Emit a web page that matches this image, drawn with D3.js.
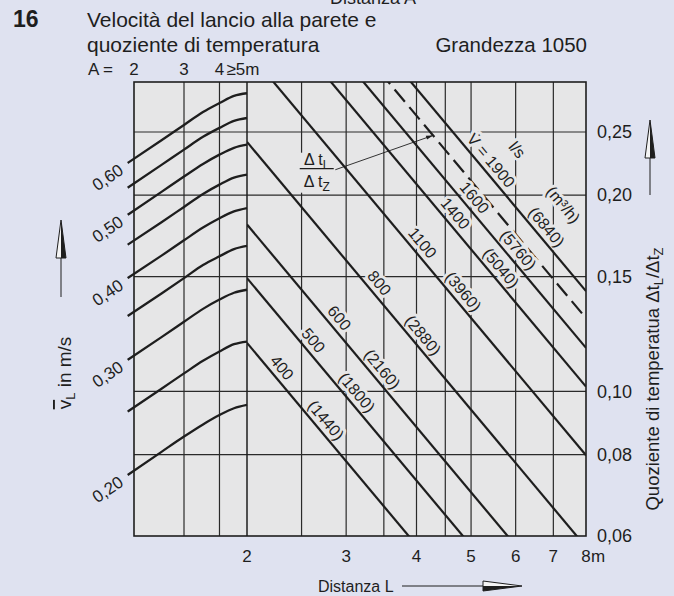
<!DOCTYPE html>
<html>
<head>
<meta charset="utf-8">
<script src="https://cdnjs.cloudflare.com/ajax/libs/d3/7.8.5/d3.min.js"></script>
<style>
body { margin: 0; background: #dfe2f0; }
text { font-family: "Liberation Sans", Arial, Helvetica, sans-serif; fill: #1e1e1e; }
.halo { stroke: #e6e6e7; stroke-width: 6px; stroke-linejoin: round; paint-order: stroke; }
</style>
</head>
<body>
<svg id="chart" width="674" height="596"></svg>
<script>
// left part: mean throw velocity against wall distance A
var distanceA = [1.9, 2.5, 3, 3.5, 4, 4.5, 5];
var velocityCurves = [
    [0.600, 0.650, 0.686, 0.718, 0.741, 0.760, 0.767],
    [0.550, 0.596, 0.629, 0.658, 0.679, 0.696, 0.703],
    [0.500, 0.542, 0.572, 0.598, 0.618, 0.633, 0.640],
    [0.450, 0.487, 0.514, 0.538, 0.556, 0.570, 0.576],
    [0.400, 0.433, 0.457, 0.478, 0.494, 0.506, 0.512],
    [0.350, 0.379, 0.400, 0.419, 0.432, 0.443, 0.448],
    [0.300, 0.325, 0.343, 0.359, 0.371, 0.380, 0.384],
    [0.250, 0.271, 0.286, 0.299, 0.309, 0.317, 0.320],
    [0.200, 0.217, 0.229, 0.239, 0.247, 0.253, 0.256]
];
var velocityLabels = [0.60, 0.50, 0.40, 0.30, 0.20];
var aTicks = [2, 3, 4];
var aGrid = [3, 4];

// right part: temperature quotient against distance L
var lTicks = [2, 3, 4, 5, 6, 7, 8];
var lGrid = [2.5, 3, 3.5, 4, 4.5, 5, 6, 7];
var quotientTicks = [0.25, 0.20, 0.15, 0.10, 0.08, 0.06];
var flowLs = [400, 500, 600, 800, 1100, 1400, 1600, 1900];
var flowM3h = [1440, 1800, 2160, 2880, 3960, 5040, 5760, 6840];
var quotientAtL2 = [0.1187, 0.1492, 0.1803, 0.2414, 0.3336, 0.4252, 0.4876, 0.5958];
var quotientAtL8 = [0.0284, 0.0357, 0.0431, 0.0577, 0.0798, 0.1017, 0.1166, 0.1425];
var refLine = [0.5418, 0.1295];   // dashed line (dt_L/dt_Z), at L=2 and L=8

// where the labels sit along each line (distance L)
var flowLabelL = [2.23, 2.535, 2.82, 3.32, 3.96, 4.53, 4.90, 5.24];
var m3hLabelL = [2.67, 3.03, 3.36, 3.97, 4.68, 5.46, 5.86, 6.58];

var w = 674;
var h = 596;
var panelBg = "#e6e6e7";
var ink = "#1e1e1e";

var xA = d3.scaleLog().domain([2, 5]).range([134, 247]);
var xL = d3.scaleLog().domain([2, 8]).range([247, 586]);
var yV = d3.scaleLog().domain([0.2, 0.6]).range([475, 163]);
var yQ = d3.scaleLog().domain([0.06, 0.25]).range([536, 132]);

var pLeft = xA(2), pMid = xL(2), pRight = xL(8), pTop = 82, pBottom = yQ(0.06);

var svg = d3.select("#chart");

svg.append("rect").attr("width", w).attr("height", h).attr("fill", "#dfe2f0");
svg.append("rect")
    .attr("x", pLeft).attr("y", pTop)
    .attr("width", pRight - pLeft).attr("height", pBottom - pTop)
    .attr("fill", panelBg);

svg.append("clipPath").attr("id", "clipR")
    .append("rect")
    .attr("x", pMid).attr("y", pTop)
    .attr("width", pRight - pMid).attr("height", pBottom - pTop);

// grid
var grid = svg.append("g").attr("stroke", "#2a2a2a").attr("stroke-width", 1.2);
grid.selectAll("line.h")
    .data(quotientTicks.slice(0, 5))
    .enter().append("line")
    .attr("x1", pLeft).attr("x2", pRight)
    .attr("y1", function(d) { return yQ(d); })
    .attr("y2", function(d) { return yQ(d); });
grid.selectAll("line.va")
    .data(aGrid)
    .enter().append("line")
    .attr("x1", function(d) { return xA(d); })
    .attr("x2", function(d) { return xA(d); })
    .attr("y1", pTop).attr("y2", pBottom);
grid.selectAll("line.vl")
    .data(lGrid)
    .enter().append("line")
    .attr("x1", function(d) { return xL(d); })
    .attr("x2", function(d) { return xL(d); })
    .attr("y1", pTop).attr("y2", pBottom);

var qLine = d3.line()
    .x(function(d) { return xL(d[0]); })
    .y(function(d) { return yQ(d[1]); });

// dashed dt_L/dt_Z line goes under the labels, so they break it like in print
svg.append("path")
    .attr("clip-path", "url(#clipR)")
    .attr("d", qLine([[2, refLine[0]], [8, refLine[1]]]))
    .attr("fill", "none").attr("stroke", ink).attr("stroke-width", 2.2)
    .attr("stroke-dasharray", "16,7");

function qAt(q2, q8, L) {
    var t = Math.log(L / 2) / Math.log(4);
    return q2 * Math.pow(q8 / q2, t);
}
function angleOf(q2, q8) {
    return Math.atan2(yQ(q8) - yQ(q2), xL(8) - xL(2));
}
// point beside a line, pushed off to the upper right
function besideLine(q2, q8, L, off) {
    var a = angleOf(q2, q8);
    return [xL(L) + off * Math.sin(a), yQ(qAt(q2, q8, L)) - off * Math.cos(a), a * 180 / Math.PI];
}

// labels on the flow lines
var labels = svg.append("g").attr("font-size", 16).attr("text-anchor", "middle");
labels.selectAll("text.ls")
    .data(flowLs)
    .enter().append("text")
    .attr("class", "halo")
    .attr("dy", "0.35em")
    .attr("transform", function(d, i) {
        var p = besideLine(quotientAtL2[i], quotientAtL8[i], flowLabelL[i], 11);
        return "translate(" + p[0] + "," + p[1] + ") rotate(" + p[2] + ")";
    })
    .text(function(d, i) { return i == flowLs.length - 1 ? "V\u0307 = " + d : d; });
labels.selectAll("text.m3")
    .data(flowM3h)
    .enter().append("text")
    .attr("class", "halo")
    .attr("dy", "0.35em")
    .attr("transform", function(d, i) {
        var p = besideLine(quotientAtL2[i], quotientAtL8[i], m3hLabelL[i], 11);
        return "translate(" + p[0] + "," + p[1] + ") rotate(" + p[2] + ")";
    })
    .text(function(d) { return "(" + d + ")"; });

var last = flowLs.length - 1;
var pUnit = besideLine(quotientAtL2[last], quotientAtL8[last], 5.36, 38);
labels.append("text").attr("class", "halo").attr("dy", "0.35em")
    .attr("transform", "translate(" + pUnit[0] + "," + pUnit[1] + ") rotate(" + pUnit[2] + ")")
    .text("l/s");
var pUnit2 = besideLine(quotientAtL2[last], quotientAtL8[last], 6.47, 38);
labels.append("text").attr("class", "halo").attr("dy", "0.35em")
    .attr("transform", "translate(" + pUnit2[0] + "," + pUnit2[1] + ") rotate(" + pUnit2[2] + ")")
    .text("(m\u00b3/h)");

// dt_L / dt_Z fraction
var frac = svg.append("g")
    .attr("transform", "translate(" + xL(2.66) + "," + yQ(0.2196) + ")")
    .attr("font-size", 16).attr("text-anchor", "middle");
frac.append("rect").attr("x", -19).attr("y", -16).attr("width", 38).attr("height", 40).attr("fill", panelBg);
var num = frac.append("text").attr("y", -4);
num.append("tspan").text("\u0394 t");
num.append("tspan").attr("dy", 4).attr("font-size", 12).text("L");
frac.append("line").attr("x1", -17).attr("x2", 17).attr("y1", 0).attr("y2", 0)
    .attr("stroke", ink).attr("stroke-width", 1.2);
var den = frac.append("text").attr("y", 18);
den.append("tspan").text("\u0394 t");
den.append("tspan").attr("dy", 4).attr("font-size", 12).text("Z");

// panel frame
svg.append("rect")
    .attr("x", pLeft).attr("y", pTop)
    .attr("width", pRight - pLeft).attr("height", pBottom - pTop)
    .attr("fill", "none").attr("stroke", ink).attr("stroke-width", 1.6);
svg.append("line")
    .attr("x1", pMid).attr("x2", pMid).attr("y1", pTop).attr("y2", pBottom)
    .attr("stroke", ink).attr("stroke-width", 1.5);

// flow lines
svg.append("g").attr("clip-path", "url(#clipR)")
    .attr("fill", "none").attr("stroke", ink).attr("stroke-width", 2.2)
    .selectAll("path")
    .data(flowLs)
    .enter().append("path")
    .attr("d", function(d, i) { return qLine([[2, quotientAtL2[i]], [8, quotientAtL8[i]]]); });

// velocity curves
var vLine = d3.line()
    .x(function(d, i) { return xA(distanceA[i]); })
    .y(function(d) { return yV(d); })
    .curve(d3.curveMonotoneX);
svg.append("g").attr("fill", "none").attr("stroke", ink).attr("stroke-width", 2.3)
    .selectAll("path")
    .data(velocityCurves)
    .enter().append("path")
    .attr("d", vLine);

// leader from the fraction to the dashed line
var lx0 = xL(2.87), ly0 = yQ(0.2188);
var lx1 = xL(4.28), ly1 = yQ(qAt(refLine[0], refLine[1], 4.28));
svg.append("line")
    .attr("x1", lx0).attr("y1", ly0).attr("x2", lx1).attr("y2", ly1)
    .attr("stroke", ink).attr("stroke-width", 0.9);
var la = Math.atan2(ly1 - ly0, lx1 - lx0);
svg.append("path")
    .attr("d", "M" + lx1 + "," + ly1 +
        "L" + (lx1 - 7 * Math.cos(la) + 2 * Math.sin(la)) + "," + (ly1 - 7 * Math.sin(la) - 2 * Math.cos(la)) +
        "L" + (lx1 - 7 * Math.cos(la) - 2 * Math.sin(la)) + "," + (ly1 - 7 * Math.sin(la) + 2 * Math.cos(la)) + "Z")
    .attr("fill", ink);

// left axis labels, tilted along the curves
svg.append("g").attr("font-size", 17).attr("text-anchor", "end")
    .selectAll("text")
    .data(velocityLabels)
    .enter().append("text")
    .attr("transform", function(d) {
        return "translate(" + (xA(1.9) - 3) + "," + (yV(d) + 10) + ") rotate(-34)";
    })
    .text(function(d) { return d3.format(".2f")(d).replace(".", ","); });

// right axis labels
svg.append("g").attr("font-size", 18)
    .selectAll("text")
    .data(quotientTicks)
    .enter().append("text")
    .attr("x", pRight + 11)
    .attr("y", function(d) { return yQ(d); })
    .attr("dy", "0.35em")
    .text(function(d) { return d3.format(".2f")(d).replace(".", ","); });

// bottom axis labels
svg.append("g").attr("font-size", 17).attr("text-anchor", "middle")
    .selectAll("text")
    .data(lTicks)
    .enter().append("text")
    .attr("x", function(d) { return xL(d); })
    .attr("y", 562)
    .text(function(d) { return d; });
svg.append("text").attr("x", xL(8) + 5).attr("y", 562).attr("font-size", 17).text("m");

// top (distance A) labels
svg.append("text").attr("x", 88).attr("y", 75).attr("font-size", 17).text("A =");
svg.append("g").attr("font-size", 17).attr("text-anchor", "middle")
    .selectAll("text")
    .data(aTicks)
    .enter().append("text")
    .attr("x", function(d) { return xA(d); })
    .attr("y", 75)
    .text(function(d) { return d; });
svg.append("text").attr("x", xA(4) + 7).attr("y", 75).attr("font-size", 17).text("\u22655m");

// titles
svg.append("text").attr("x", 416).attr("y", 4).attr("font-size", 18).attr("text-anchor", "end").text("Distanza A");
svg.append("text").attr("x", 13).attr("y", 27).attr("font-size", 23).attr("font-weight", "bold").text("16");
svg.append("text").attr("x", 87).attr("y", 27).attr("font-size", 21).text("Velocit\u00e0 del lancio alla parete e");
svg.append("text").attr("x", 87).attr("y", 52).attr("font-size", 21).text("quoziente di temperatura");
svg.append("text").attr("x", pRight + 1).attr("y", 52).attr("font-size", 20.5).attr("text-anchor", "end").text("Grandezza 1050");

// axis titles
var yt = svg.append("text").attr("font-size", 19).attr("text-anchor", "middle")
    .attr("transform", "translate(71,373) rotate(-90)");
yt.append("tspan").style("text-decoration", "overline").text("v");
yt.append("tspan").attr("dy", 4).attr("font-size", 13).text("L");
yt.append("tspan").attr("dy", -4).text(" in m/s");

var rt = svg.append("text").attr("font-size", 18.5).attr("text-anchor", "middle")
    .attr("transform", "translate(659,379) rotate(-90)");
rt.append("tspan").text("Quoziente di temperatua \u0394t");
rt.append("tspan").attr("dy", 4).attr("font-size", 13).text("L");
rt.append("tspan").attr("dy", -4).text("/\u0394t");
rt.append("tspan").attr("dy", 4).attr("font-size", 13).text("Z");

svg.append("text").attr("x", 318).attr("y", 592).attr("font-size", 16).text("Distanza L");

// arrows
function arrowUp(x, tip, base, tail) {
    svg.append("line").attr("x1", x).attr("x2", x).attr("y1", base).attr("y2", tail)
        .attr("stroke", ink).attr("stroke-width", 1);
    svg.append("path").attr("d", "M" + x + "," + tip + "L" + (x - 5) + "," + base + "L" + (x + 5) + "," + base + "Z")
        .attr("fill", "#f4f4f4").attr("stroke", ink).attr("stroke-width", 1);
    svg.append("path").attr("d", "M" + x + "," + tip + "L" + (x + 5) + "," + base + "L" + x + "," + base + "Z")
        .attr("fill", ink);
}
arrowUp(61, 220, 258, 297);
arrowUp(650, 120, 158, 195);

svg.append("line").attr("x1", 402).attr("x2", 483).attr("y1", 586).attr("y2", 586)
    .attr("stroke", ink).attr("stroke-width", 1);
svg.append("path").attr("d", "M522,586L483,581L483,591Z")
    .attr("fill", "#f4f4f4").attr("stroke", ink).attr("stroke-width", 1);
svg.append("path").attr("d", "M522,586L483,591L483,586Z").attr("fill", ink);
</script>
</body>
</html>
